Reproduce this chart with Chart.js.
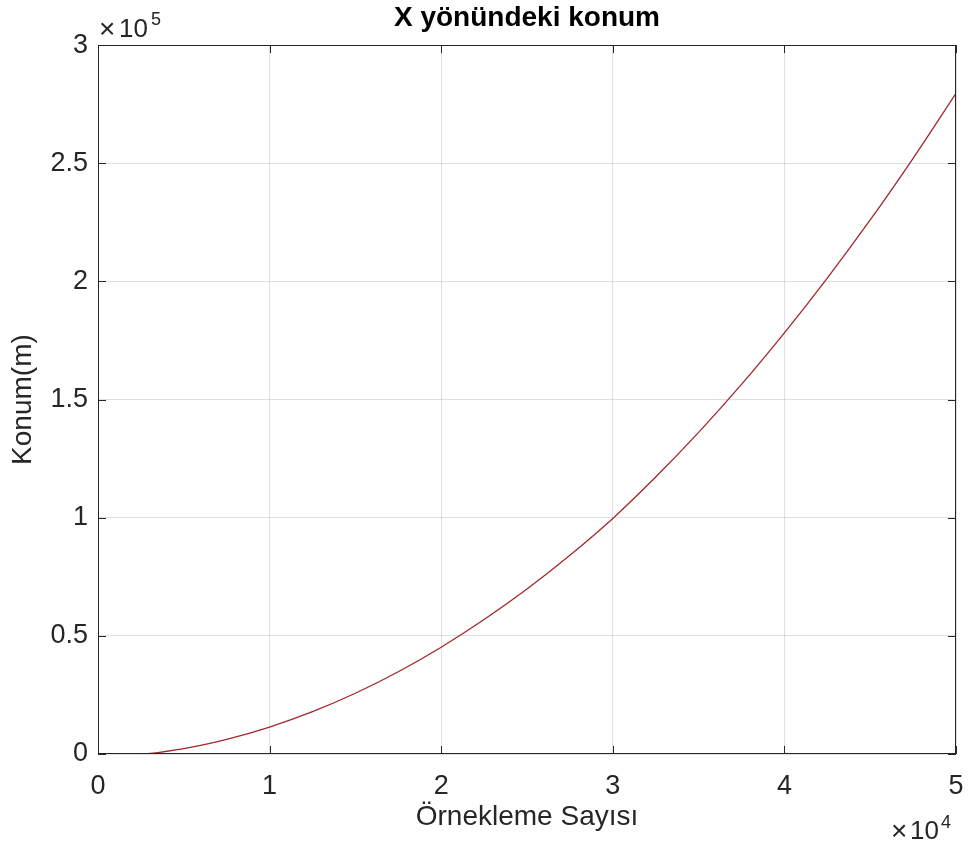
<!DOCTYPE html>
<html>
<head>
<meta charset="utf-8">
<script src="https://cdn.jsdelivr.net/npm/chart.js@4/dist/chart.umd.min.js"></script>
<style>
  html, body { margin: 0; padding: 0; background: #ffffff; }
  #wrap { width: 968px; height: 852px; }
</style>
</head>
<body>
<div id="wrap"><canvas id="c" width="968" height="852"></canvas></div>
<script>
// Sample index (x) and position in metres (y)
const sampleCounts = [0, 2500, 5000, 7500, 10000, 12500, 15000, 17500, 20000, 22500, 25000,
                      27500, 30000, 32500, 35000, 37500, 40000, 42500, 45000, 47500, 50000];
const positions = [0, 0, 2300, 6200, 11400, 17900, 25700, 34800, 45200, 56900, 69800,
                   84100, 99700, 117200, 136100, 156400, 178200, 201400, 226000, 252100, 279600];

// Axis ranges and tick steps (labels shown in units of the exponent)
const xRange = [0, 50000];
const xStep = 10000;
const xExponent = 4;
const yRange = [0, 300000];
const yStep = 50000;
const yExponent = 5;

const titleText = 'X yönündeki konum';
const xTitle = 'Örnekleme Sayısı';
const yTitle = 'Konum(m)';

const FONT = "'Liberation Sans', Arial, Helvetica, sans-serif";
const INK = '#262626';
const GRID = 'rgba(0,0,0,0.12)';

const points = sampleCounts.map((t, i) => ({ x: t, y: positions[i] }));

function fmt(v, exp) {
  const s = v / Math.pow(10, exp);
  return String(Math.round(s * 100) / 100);
}

// Box around the axes, inward tick marks, and the ×10^n multipliers
const axesDecor = {
  id: 'axesDecor',
  afterDatasetsDraw(chart) {
    const { ctx, chartArea: a, scales: { x, y } } = chart;
    const L = 8;
    ctx.save();
    ctx.strokeStyle = INK;
    ctx.lineWidth = 1;
    ctx.beginPath();
    x.ticks.forEach(t => {
      const px = Math.round(x.getPixelForValue(t.value)) + 0.5;
      ctx.moveTo(px, a.bottom); ctx.lineTo(px, a.bottom - L);
      ctx.moveTo(px, a.top); ctx.lineTo(px, a.top + L);
    });
    y.ticks.forEach(t => {
      const py = Math.round(y.getPixelForValue(t.value)) + 0.5;
      ctx.moveTo(a.left, py); ctx.lineTo(a.left + L, py);
      ctx.moveTo(a.right, py); ctx.lineTo(a.right - L, py);
    });
    ctx.stroke();
    ctx.strokeRect(Math.round(a.left) + 0.5, Math.round(a.top) + 0.5,
                   Math.round(a.right - a.left) - 1, Math.round(a.bottom - a.top) - 1);
    ctx.restore();
  },
  afterDraw(chart) {
    const { ctx, chartArea: a } = chart;
    ctx.save();
    ctx.fillStyle = INK;
    ctx.textAlign = 'left';
    ctx.textBaseline = 'alphabetic';
    // y multiplier, above the top-left corner
    ctx.font = '28px ' + FONT;
    ctx.fillText('×', a.left + 1, 38);
    ctx.font = '26px ' + FONT;
    ctx.fillText('10', a.left + 21, 37);
    ctx.font = '18px ' + FONT;
    ctx.fillText(String(yExponent), a.left + 53, 25);
    // x multiplier, under the bottom-right corner
    ctx.font = '28px ' + FONT;
    ctx.fillText('×', a.right - 65, 840);
    ctx.font = '26px ' + FONT;
    ctx.fillText('10', a.right - 46, 839);
    ctx.font = '18px ' + FONT;
    ctx.fillText(String(xExponent), a.right - 15, 828);
    ctx.restore();
  }
};

new Chart(document.getElementById('c'), {
  type: 'line',
  data: {
    datasets: [{
      data: points,
      borderColor: '#a3262a',
      borderWidth: 1.3,
      pointRadius: 0,
      fill: false,
      cubicInterpolationMode: 'monotone'
    }]
  },
  options: {
    responsive: false,
    animation: false,
    devicePixelRatio: 1,
    layout: { padding: { left: 0, right: 12, top: 0, bottom: 0 } },
    plugins: {
      legend: { display: false },
      tooltip: { enabled: false },
      title: {
        display: true,
        text: titleText,
        fullSize: false,
        color: '#000000',
        font: { family: FONT, size: 28, weight: 'bold' },
        padding: { top: 1, bottom: 10.5 }
      }
    },
    scales: {
      x: {
        type: 'linear',
        min: xRange[0],
        max: xRange[1],
        border: { display: false },
        grid: { color: GRID, drawTicks: false, lineWidth: 1 },
        ticks: {
          stepSize: xStep,
          color: INK,
          padding: 16,
          maxRotation: 0,
          font: { family: FONT, size: 27 },
          callback: v => fmt(v, xExponent)
        },
        title: {
          display: true,
          text: xTitle,
          color: INK,
          font: { family: FONT, size: 28 },
          padding: { top: 0, bottom: 18 }
        },
        afterFit: s => { s.height = 98; s.paddingLeft = 0; s.paddingRight = 0; }
      },
      y: {
        type: 'linear',
        min: yRange[0],
        max: yRange[1],
        border: { display: false },
        grid: { color: GRID, drawTicks: false, lineWidth: 1 },
        ticks: {
          stepSize: yStep,
          color: INK,
          padding: 10,
          font: { family: FONT, size: 27 },
          callback: v => fmt(v, yExponent)
        },
        title: {
          display: true,
          text: yTitle,
          color: INK,
          font: { family: FONT, size: 28 },
          padding: { top: 6, bottom: 0 }
        },
        afterFit: s => { s.width = 98; s.paddingTop = 0; s.paddingBottom = 0; }
      }
    }
  },
  plugins: [axesDecor]
});
</script>
</body>
</html>
